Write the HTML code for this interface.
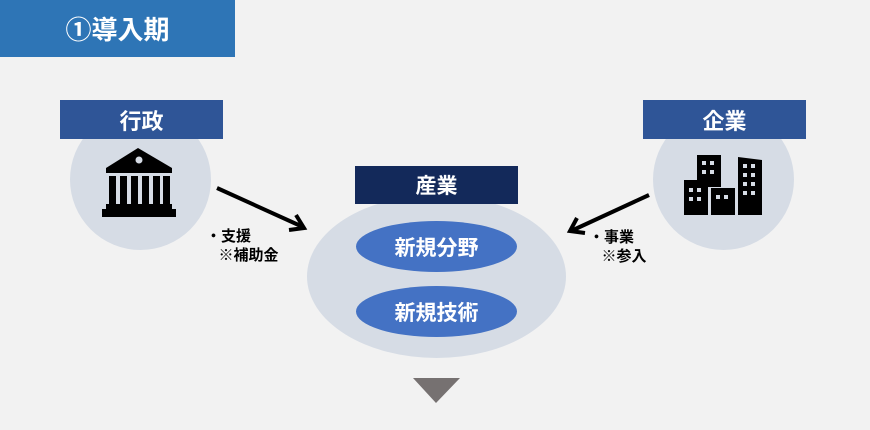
<!DOCTYPE html>
<html><head><meta charset="utf-8"><style>
body{margin:0;width:870px;height:430px;background:#f2f2f2;position:relative;overflow:hidden;font-family:"Liberation Sans","Noto Sans CJK JP",sans-serif}
.a{position:absolute;box-sizing:border-box}
.lab{color:#fff;font-weight:bold;display:flex;align-items:center;justify-content:center}
.circ{border-radius:50%;background:#d6dce5}
.pill{border-radius:50%;background:#4472c4;color:#fff;font-weight:bold;font-size:21px;display:flex;align-items:center;justify-content:center}
.t{font-size:15px;color:#000;line-height:19px;font-weight:bold}
</style></head><body>
<div class="a lab" style="left:0;top:0;width:235px;height:57px;background:#2e75b6;font-size:26px">①導入期</div>
<div class="a circ" style="left:70px;top:109px;width:141px;height:141px"></div>
<div class="a circ" style="left:653px;top:109px;width:141px;height:141px"></div>
<div class="a lab" style="left:60px;top:100px;width:163px;height:39px;background:#2f5597;font-size:22px">行政</div>
<div class="a lab" style="left:643px;top:100px;width:163px;height:39px;background:#2f5597;font-size:22px">企業</div>
<div class="a circ" style="left:307px;top:195px;width:259px;height:163px"></div>
<div class="a lab" style="left:355px;top:166px;width:163px;height:38px;background:#13295a;font-size:21px">産業</div>
<div class="a pill" style="left:356px;top:221px;width:161px;height:51px">新規分野</div>
<div class="a pill" style="left:356px;top:286px;width:161px;height:51px">新規技術</div>
<svg class="a" style="left:0;top:0" width="870" height="430">
<polygon points="413,378 460,378 436,403" fill="#767171"/>
<g stroke="#000" stroke-width="4" fill="none">
<line x1="217" y1="188" x2="303" y2="227"/><polyline points="289,230 304,228 296,215"/>
<line x1="649" y1="195" x2="571" y2="231"/><polyline points="577,218 570,231 585,233"/>
</g>
<g fill="#000">
<polygon points="138,148 106,168 172,168"/>
<rect x="106" y="168" width="66" height="5"/>
<rect x="109" y="176" width="7" height="28"/><rect x="120" y="176" width="7" height="28"/><rect x="131" y="176" width="7" height="28"/><rect x="142" y="176" width="7" height="28"/><rect x="153" y="176" width="7" height="28"/><rect x="163" y="176" width="7" height="28"/>
<rect x="106" y="204" width="66" height="5"/><rect x="102" y="209" width="74" height="8"/>
</g>
<circle cx="139" cy="160" r="3.5" fill="#d6dce5"/>
<g fill="#000">
<rect x="697" y="155" width="24" height="32"/>
<rect x="684" y="180" width="24" height="35"/>
<rect x="711" y="188" width="24" height="27"/>
<polygon points="738,157 762,160 762,215 738,215"/>
</g>
<g fill="#d6dce5">
<rect x="702" y="161" width="4" height="4"/><rect x="710" y="161" width="4" height="4"/><rect x="702" y="170" width="4" height="4"/><rect x="710" y="170" width="4" height="4"/>
<rect x="689" y="188" width="4" height="4"/><rect x="697" y="188" width="4" height="4"/><rect x="689" y="197" width="4" height="4"/><rect x="697" y="197" width="4" height="4"/>
<rect x="716" y="195" width="4" height="4"/><rect x="724" y="195" width="4" height="4"/>
<rect x="743" y="164" width="4" height="4"/><rect x="751" y="164" width="4" height="4"/><rect x="743" y="173" width="4" height="4"/><rect x="751" y="173" width="4" height="4"/><rect x="743" y="182" width="4" height="4"/><rect x="751" y="182" width="4" height="4"/><rect x="743" y="191" width="4" height="4"/><rect x="751" y="191" width="4" height="4"/>
</g>
</svg>
<div class="a t" style="left:206px;top:227px">・支援<br>&nbsp;&nbsp;&nbsp;※補助金</div>
<div class="a t" style="left:589px;top:228px">・事業<br>&nbsp;&nbsp;&nbsp;※参入</div>
</body></html>
